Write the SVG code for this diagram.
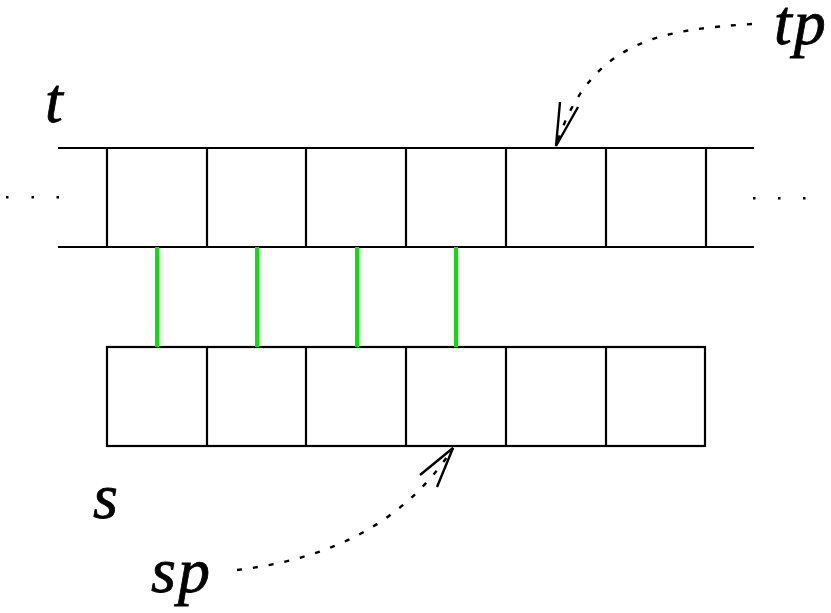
<svg xmlns="http://www.w3.org/2000/svg" width="831" height="613" viewBox="0 0 831 613">
  <style>
    .cell { fill: none; stroke: #000; stroke-width: 2.2; }
    .link { stroke: #00e600; stroke-width: 4; }
    .ptr { fill: none; stroke: #000; stroke-width: 2.4; stroke-dasharray: 5 11; }
    .head { fill: none; stroke: #000; stroke-width: 2.4; }
    .dot { fill: #000; }
    .lbl { font-family: "Liberation Serif", "DejaVu Serif", serif; font-style: italic; font-size: 64px; fill: #000; stroke: #000; stroke-width: 0.8; letter-spacing: 2px; }
  </style>

  <!-- tape t: open-ended row of cells -->
  <g id="tape-t">
    <line class="cell" x1="58" y1="148" x2="754" y2="148"/>
    <line class="cell" x1="58" y1="247" x2="754" y2="247"/>
    <line class="cell" x1="107" y1="148" x2="107" y2="247"/>
    <line class="cell" x1="207" y1="148" x2="207" y2="247"/>
    <line class="cell" x1="306" y1="148" x2="306" y2="247"/>
    <line class="cell" x1="406" y1="148" x2="406" y2="247"/>
    <line class="cell" x1="506" y1="148" x2="506" y2="247"/>
    <line class="cell" x1="606" y1="148" x2="606" y2="247"/>
    <line class="cell" x1="706" y1="148" x2="706" y2="247"/>
    <rect class="dot" x="6" y="196" width="2.5" height="2.5"/>
    <rect class="dot" x="31.5" y="196" width="2.5" height="2.5"/>
    <rect class="dot" x="56.5" y="196" width="2.5" height="2.5"/>
    <rect class="dot" x="753" y="197" width="2.5" height="2.5"/>
    <rect class="dot" x="778" y="197" width="2.5" height="2.5"/>
    <rect class="dot" x="803" y="197" width="2.5" height="2.5"/>
  </g>

  <!-- tape s: six closed cells -->
  <g id="tape-s">
    <rect class="cell" x="107" y="347" width="598" height="99"/>
    <line class="cell" x1="207" y1="347" x2="207" y2="446"/>
    <line class="cell" x1="306" y1="347" x2="306" y2="446"/>
    <line class="cell" x1="406" y1="347" x2="406" y2="446"/>
    <line class="cell" x1="506" y1="347" x2="506" y2="446"/>
    <line class="cell" x1="606" y1="347" x2="606" y2="446"/>
  </g>

  <!-- labels -->
  <g id="label-t"><text class="lbl" x="45" y="122">t</text></g>
  <g id="label-s"><text class="lbl" x="93" y="518">s</text></g>
  <g id="label-tp"><text class="lbl" x="774" y="44">tp</text></g>
  <g id="label-sp"><text class="lbl" x="151" y="592">sp</text></g>

  <!-- connectors -->
  <g id="connectors">
    <line class="link" x1="157" y1="247" x2="157" y2="347"/>
    <line class="link" x1="257" y1="247" x2="257" y2="347"/>
    <line class="link" x1="357" y1="247" x2="357" y2="347"/>
    <line class="link" x1="456" y1="247" x2="456" y2="347"/>

    <path class="ptr" d="M752,24 C660,30 590,40 556,146"/>
    <polyline class="head" points="560,102 556,146 578,107"/>

    <path class="ptr" d="M237,570 C320,560 400,530 453,448"/>
    <polyline class="head" points="420,475 453,448 437,487"/>
  </g>
</svg>
